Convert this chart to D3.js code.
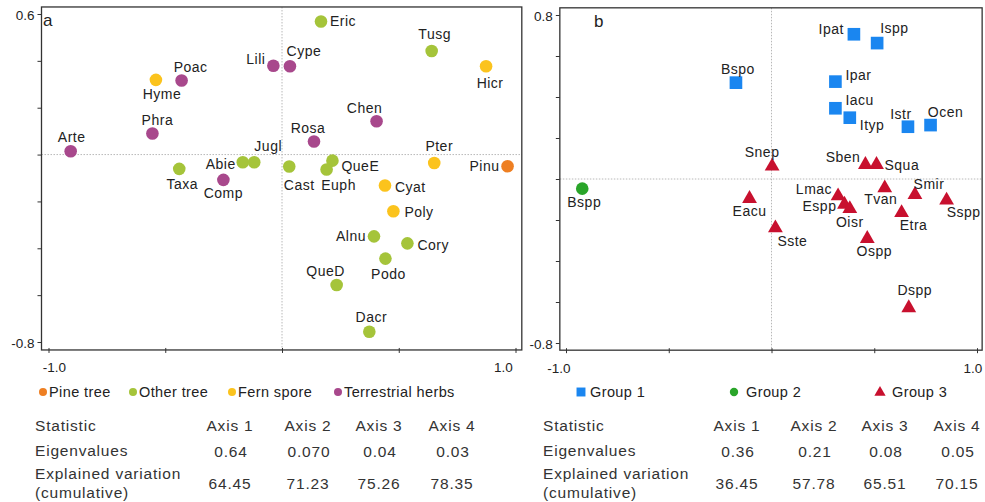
<!DOCTYPE html>
<html lang="en">
<head>
    <meta charset="UTF-8">
    <title>CA ordination</title>
    <script src="https://cdn.jsdelivr.net/npm/d3@7"></script>
    <style>
        body {
            margin: 0;
            background: #ffffff;
        }

        svg {
            width: 985px;
            height: 502px;
            display: block;
        }

        text {
            font-family: "Liberation Sans", Arial, sans-serif;
            fill: #222222;
        }
    </style>
</head>
<body>
<svg class="svg"></svg>

<script>

    // panel a: pollen taxa
    var taxaA = ['Arte', 'Hyme', 'Poac', 'Phra', 'Lili', 'Taxa', 'Abie', 'Jugl', 'Comp',
        'Eric', 'Cype', 'Tusg', 'Hicr', 'Chen', 'Rosa', 'Pter', 'Pinu', 'Cast', 'QueE',
        'Euph', 'Cyat', 'Poly', 'Alnu', 'Cory', 'Podo', 'QueD', 'Dacr'];
    var axis1A = [-0.905, -0.540, -0.430, -0.555, -0.037, -0.440, -0.168, -0.119, -0.251,
        0.167, 0.034, 0.641, 0.874, 0.405, 0.137, 0.652, 0.966, 0.031, 0.216,
        0.191, 0.441, 0.477, 0.394, 0.537, 0.443, 0.234, 0.374];
    var axis2A = [0.014, 0.319, 0.316, 0.090, 0.379, -0.061, -0.033, -0.033, -0.108,
        0.568, 0.377, 0.442, 0.377, 0.142, 0.056, -0.036, -0.050, -0.051, -0.026,
        -0.064, -0.132, -0.242, -0.349, -0.379, -0.444, -0.557, -0.756];
    var typeA = ['herb', 'fern', 'herb', 'herb', 'herb', 'tree', 'tree', 'tree', 'herb',
        'tree', 'herb', 'tree', 'fern', 'herb', 'herb', 'fern', 'pine', 'tree', 'tree',
        'tree', 'fern', 'fern', 'tree', 'tree', 'tree', 'tree', 'tree'];
    var groupsA = ['pine', 'tree', 'fern', 'herb'];
    var groupNamesA = ['Pine tree', 'Other tree', 'Fern spore', 'Terrestrial herbs'];

    // panel b: taxa in three groups
    var taxaB = ['Bspo', 'Bspp', 'Eacu', 'Snep', 'Ipat', 'Ispp', 'Ipar', 'Iacu', 'Ityp',
        'Istr', 'Ocen', 'Sben', 'Squa', 'Tvan', 'Smir', 'Sspp', 'Lmac', 'Espp', 'Oisr',
        'Etra', 'Sste', 'Ospp', 'Dspp'];
    var axis1B = [-0.173, -0.921, -0.107, 0.003, 0.401, 0.514, 0.311, 0.311, 0.381,
        0.664, 0.774, 0.457, 0.511, 0.551, 0.698, 0.852, 0.324, 0.355, 0.381,
        0.633, 0.019, 0.466, 0.668];
    var axis2B = [0.470, -0.047, -0.091, 0.067, 0.706, 0.663, 0.475, 0.345, 0.299,
        0.255, 0.263, 0.075, 0.075, -0.039, -0.072, -0.099, -0.078, -0.119, -0.140,
        -0.160, -0.234, -0.286, -0.624];
    var groupB = [1, 2, 3, 3, 1, 1, 1, 1, 1,
        1, 1, 3, 3, 3, 3, 3, 3, 3, 3,
        3, 3, 3, 3];
    var groupNamesB = ['Group 1', 'Group 2', 'Group 3'];

    // tables
    var statHeader = ['Statistic', 'Axis 1', 'Axis 2', 'Axis 3', 'Axis 4'];
    var eigenA = ['0.64', '0.070', '0.04', '0.03'];
    var varianceA = ['64.45', '71.23', '75.26', '78.35'];
    var eigenB = ['0.36', '0.21', '0.08', '0.05'];
    var varianceB = ['36.45', '57.78', '65.51', '70.15'];

    // label placement: [dx, dy, anchor]
    var labelPosA = {
        Arte: [1, -14, 'middle'], Hyme: [6, 14, 'middle'], Poac: [9, -14, 'middle'],
        Phra: [5, -13, 'middle'], Lili: [-8, -7, 'end'], Taxa: [3, 15, 'middle'],
        Abie: [-7, 2, 'end'], Jugl: [14, -16, 'middle'], Comp: [0, 13, 'middle'],
        Eric: [9, 0, 'start'], Cype: [14, -15, 'middle'], Tusg: [3, -17, 'middle'],
        Hicr: [4, 17, 'middle'], Chen: [-12, -13, 'middle'], Rosa: [-6, -13, 'middle'],
        Pter: [5, -17, 'middle'], Pinu: [-8, 0, 'end'], Cast: [10, 18, 'middle'],
        QueE: [9, 5, 'start'], Euph: [12, 15, 'middle'], Cyat: [10, 2, 'start'],
        Poly: [11, 1, 'start'], Alnu: [-8, 0, 'end'], Cory: [10, 2, 'start'],
        Podo: [3, 15, 'middle'], QueD: [-11, -14, 'middle'], Dacr: [2, -15, 'middle']
    };
    var labelPosB = {
        Bspo: [2, -14, 'middle'], Bspp: [2, 13, 'middle'], Eacu: [0, 13, 'middle'],
        Snep: [-10, -13, 'middle'], Ipat: [-10, -5, 'end'], Ispp: [3, -15, 'start'],
        Ipar: [10, -7, 'start'], Iacu: [10, -8, 'start'], Ityp: [10, 7, 'start'],
        Istr: [-7, -13, 'middle'], Ocen: [15, -13, 'middle'], Sben: [-5, -7, 'end'],
        Squa: [8, 1, 'start'], Tvan: [-4, 12, 'middle'], Smir: [14, -10, 'middle'],
        Sspp: [17, 13, 'middle'], Lmac: [-6, -6, 'end'], Espp: [-8, 3, 'end'],
        Oisr: [0, 14, 'middle'], Etra: [12, 13, 'middle'], Sste: [17, 14, 'middle'],
        Ospp: [7, 13, 'middle'], Dspp: [6, -17, 'middle']
    };

    var colorA = d3.scaleOrdinal()
        .domain(groupsA)
        .range(['#ee7f22', '#a5c43a', '#fbc31d', '#a8488c']);
    var colorB = d3.scaleOrdinal()
        .domain([1, 2, 3])
        .range(['#1a86f0', '#2aa52a', '#c8102e']);
    var shapeB = d3.scaleOrdinal()
        .domain([1, 2, 3])
        .range([d3.symbolSquare, d3.symbolCircle, d3.symbolTriangle]);

    var svg = d3.select('svg');

    var xA = d3.scaleLinear().domain([-1, 1]).range([48.5, 515.5]);
    var yA = d3.scaleLinear().domain([-0.8, 0.6]).range([342, 14]);
    var xB = d3.scaleLinear().domain([-1, 1]).range([566, 977]);
    var yB = d3.scaleLinear().domain([-0.8, 0.8]).range([343, 15]);

    function fmt(v) {
        return v.toFixed(1);
    }

    function drawFrame(x, y, xExt, yExt, yTicks, yLabels, xLabels, letter) {
        var g = svg.append('g');
        var left = x(xExt[0]), right = x(xExt[1]);
        var top = y(yExt[1]), bottom = y(yExt[0]);

        // zero lines
        var zero = g.append('g')
            .style('stroke', '#b8b8b8')
            .style('stroke-width', 1)
            .style('stroke-dasharray', '1.5,1.5');
        zero.append('line')
            .attr('x1', x(0)).attr('x2', x(0))
            .attr('y1', top).attr('y2', bottom);
        zero.append('line')
            .attr('x1', left).attr('x2', right)
            .attr('y1', y(0)).attr('y2', y(0));

        g.append('rect')
            .attr('x', left)
            .attr('y', top)
            .attr('width', right - left)
            .attr('height', bottom - top)
            .style('fill', 'none')
            .style('stroke', '#333333')
            .style('stroke-width', 1.3);

        var yAxis = d3.axisLeft(y).tickValues(yTicks).tickSize(4).tickFormat('');
        g.append('g')
            .attr('transform', 'translate(' + left + ',0)')
            .call(yAxis)
            .call(function (s) {
                s.select('.domain').remove();
                s.selectAll('.tick line').style('stroke', '#333333');
            });

        var xAxis = d3.axisBottom(x).tickValues([-1, -0.5, 0, 0.5, 1]).tickSize(3).tickFormat('');
        g.append('g')
            .attr('transform', 'translate(0,' + bottom + ')')
            .call(xAxis)
            .call(function (s) {
                s.select('.domain').remove();
                s.selectAll('.tick line').style('stroke', '#333333').attr('y1', -2);
            });

        yLabels.forEach(function (v) {
            g.append('text')
                .attr('x', left - 7)
                .attr('y', y(v) + 1)
                .attr('text-anchor', 'end')
                .attr('dominant-baseline', 'central')
                .style('font-size', '13.5px')
                .text(fmt(v));
        });
        xLabels.forEach(function (d) {
            g.append('text')
                .attr('x', x(d[0]) + d[1])
                .attr('y', bottom + 18)
                .attr('text-anchor', 'middle')
                .attr('dominant-baseline', 'central')
                .style('font-size', '13.5px')
                .text(fmt(d[0]));
        });

        g.append('text')
            .attr('x', letter[0])
            .attr('y', top + 14)
            .attr('dominant-baseline', 'central')
            .style('font-size', '17px')
            .text(letter[1]);
        return g;
    }

    drawFrame(xA, yA, [-1.03, 1.027], [-0.834, 0.63],
        d3.range(-0.8, 0.61, 0.2), [0.6, -0.8], [[-1, 6], [1, -12]], [43, 'a']);
    drawFrame(xB, yB, [-1.03, 1.025], [-0.835, 0.835],
        d3.range(-0.8, 0.81, 0.2), [0.8, -0.8], [[-1, -7], [1, -4]], [594, 'b']);

    // panel a points
    var dataA = taxaA.map(function (t, i) {
        return {name: t, x: axis1A[i], y: axis2A[i], type: typeA[i]};
    });
    var pa = svg.append('g');
    pa.selectAll('circle')
        .data(dataA)
        .enter()
        .append('circle')
        .attr('cx', function (d) { return xA(d.x); })
        .attr('cy', function (d) { return yA(d.y); })
        .attr('r', 6.3)
        .style('fill', function (d) { return colorA(d.type); });
    pa.selectAll('text')
        .data(dataA)
        .enter()
        .append('text')
        .attr('x', function (d) { return xA(d.x) + labelPosA[d.name][0]; })
        .attr('y', function (d) { return yA(d.y) + labelPosA[d.name][1]; })
        .attr('text-anchor', function (d) { return labelPosA[d.name][2]; })
        .attr('dominant-baseline', 'central')
        .style('font-size', '14px')
        .style('letter-spacing', '0.5px')
        .text(function (d) { return d.name; });

    // panel b points
    var dataB = taxaB.map(function (t, i) {
        return {name: t, x: axis1B[i], y: axis2B[i], group: groupB[i]};
    });
    var pb = svg.append('g');
    pb.selectAll('path')
        .data(dataB)
        .enter()
        .append('path')
        .attr('transform', function (d) {
            var dy = d.group === 3 ? 1 : 0;
            return 'translate(' + xB(d.x) + ',' + (yB(d.y) + dy) + ')';
        })
        .attr('d', function (d) {
            var size = d.group === 1 ? 160 : (d.group === 2 ? 125 : 95);
            return d3.symbol().type(shapeB(d.group)).size(size)();
        })
        .style('fill', function (d) { return colorB(d.group); });
    pb.selectAll('text')
        .data(dataB)
        .enter()
        .append('text')
        .attr('x', function (d) { return xB(d.x) + labelPosB[d.name][0]; })
        .attr('y', function (d) { return yB(d.y) + labelPosB[d.name][1]; })
        .attr('text-anchor', function (d) { return labelPosB[d.name][2]; })
        .attr('dominant-baseline', 'central')
        .style('font-size', '14px')
        .style('letter-spacing', '0.5px')
        .text(function (d) { return d.name; });

    // legends
    var legendA = svg.append('g').attr('transform', 'translate(0,392)');
    var legAx = [43, 133, 232, 338];
    groupsA.forEach(function (gname, i) {
        legendA.append('circle')
            .attr('cx', legAx[i])
            .attr('cy', 0)
            .attr('r', 4)
            .style('fill', colorA(gname));
        legendA.append('text')
            .attr('x', legAx[i] + 6)
            .attr('y', 0)
            .attr('dominant-baseline', 'central')
            .style('font-size', '14.5px')
            .style('letter-spacing', '0.4px')
            .text(groupNamesA[i]);
    });

    var legendB = svg.append('g').attr('transform', 'translate(0,392)');
    var legBx = [581, 734, 880];
    groupNamesB.forEach(function (name, i) {
        var grp = i + 1;
        legendB.append('path')
            .attr('transform', 'translate(' + legBx[i] + ',' + (grp === 3 ? 0.5 : 0) + ')')
            .attr('d', d3.symbol().type(shapeB(grp)).size(grp === 1 ? 80 : 55)())
            .style('fill', colorB(grp));
        legendB.append('text')
            .attr('x', legBx[i] + (grp === 1 ? 9 : 12))
            .attr('y', 0)
            .attr('dominant-baseline', 'central')
            .style('font-size', '14.5px')
            .style('letter-spacing', '0.4px')
            .text(name);
    });

    // statistic tables
    function drawTable(left, cols, eig, vari) {
        var t = svg.append('g')
            .style('font-size', '15.5px')
            .style('letter-spacing', '0.8px');
        function cell(x, y, txt, anchor) {
            t.append('text')
                .attr('x', x)
                .attr('y', y)
                .attr('text-anchor', anchor)
                .attr('dominant-baseline', 'central')
                .style('fill', '#333333')
                .text(txt);
        }
        cell(left, 425, statHeader[0], 'start');
        cell(left, 450, 'Eigenvalues', 'start');
        cell(left, 473, 'Explained variation', 'start');
        cell(left, 492, '(cumulative)', 'start');
        for (var i = 0; i < 4; i++) {
            cell(cols[i], 425, statHeader[i + 1], 'middle');
            cell(cols[i] + 1, 451, eig[i], 'middle');
            cell(cols[i], 483, vari[i], 'middle');
        }
    }

    drawTable(35, [230, 308, 379, 452], eigenA, varianceA);
    drawTable(543, [737, 814, 885, 957], eigenB, varianceB);

</script>

</body>
</html>
